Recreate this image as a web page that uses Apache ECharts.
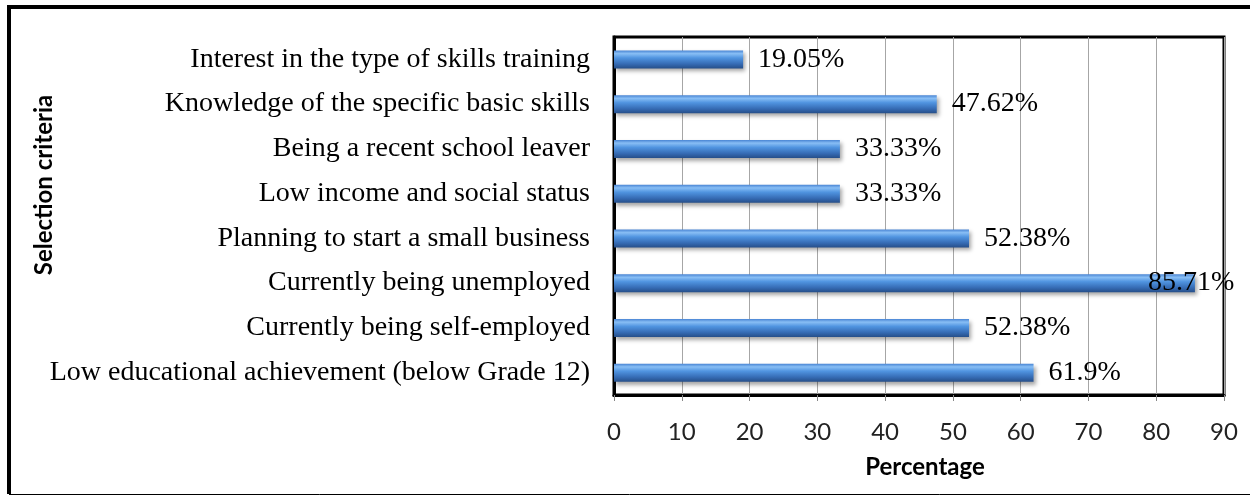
<!DOCTYPE html>
<html>
<head>
<meta charset="utf-8">
<script src="https://cdn.jsdelivr.net/npm/echarts@6/dist/echarts.min.js"></script>
<style>
  html, body { margin: 0; padding: 0; background: #fff; }
  #chart { width: 1250px; height: 497px; }
</style>
</head>
<body>
<div id="chart"></div>
<script>
// Selection criteria, listed top to bottom
const categories = [
  'Interest in the type of skills training',
  'Knowledge of the specific basic skills',
  'Being a recent school leaver',
  'Low income and social status',
  'Planning to start a small business',
  'Currently being unemployed',
  'Currently being self-employed',
  'Low educational achievement (below Grade 12)'
];
// Share of respondents (%) per criterion
const percentages = [19.05, 47.62, 33.33, 33.33, 52.38, 85.71, 52.38, 61.9];
// Value axis ticks
const xTicks = [0, 10, 20, 30, 40, 50, 60, 70, 80, 90];

const serif = '"Liberation Serif", "Times New Roman", serif';
const sans = 'Lato, "Open Sans", "Liberation Sans", sans-serif';

const barFill = new echarts.graphic.LinearGradient(0, 0, 0, 1, [
  { offset: 0, color: '#4682d2' },
  { offset: 0.18, color: '#88bef5' },
  { offset: 0.42, color: '#5094e0' },
  { offset: 0.75, color: '#366cb5' },
  { offset: 1, color: '#264f8a' }
]);

const chart = echarts.init(document.getElementById('chart'), null, { renderer: 'canvas' });

const seriesData = percentages.map((v) => {
  const item = { value: v };
  // The longest bar reaches the frame, so its label is pulled back over the bar end
  if (v > 80) {
    item.label = { offset: [-62, 0] };
  }
  return item;
});

chart.setOption({
  backgroundColor: '#fff',
  animation: false,
  graphic: [
    { type: 'line', shape: { x1: 9, y1: 7, x2: 1250, y2: 7 }, style: { stroke: '#000', lineWidth: 4 } },
    { type: 'line', shape: { x1: 9, y1: 5, x2: 9, y2: 494 }, style: { stroke: '#000', lineWidth: 4 } },
    { type: 'line', shape: { x1: 9, y1: 494.5, x2: 1250, y2: 494.5 }, style: { stroke: '#000', lineWidth: 1 } },
    {
      type: 'text', x: 925, y: 467,
      style: { text: 'Percentage', font: 'bold 24px ' + sans, fill: '#000', align: 'center', verticalAlign: 'middle' }
    },
    {
      type: 'text', x: 44, y: 185, rotation: Math.PI / 2,
      style: { text: 'Selection criteria', font: 'bold 24px ' + sans, fill: '#000', align: 'center', verticalAlign: 'middle' }
    }
  ],
  grid: {
    left: 614, right: 26, top: 37, bottom: 102,
    show: true, borderColor: '#000', borderWidth: 3, backgroundColor: 'transparent'
  },
  xAxis: {
    type: 'value',
    min: xTicks[0],
    max: xTicks[xTicks.length - 1],
    interval: 10,
    axisLine: { show: true, lineStyle: { color: '#000', width: 3 } },
    axisTick: { show: true, length: 6, lineStyle: { color: '#888' } },
    splitLine: { show: true, lineStyle: { color: '#a6a6a6', width: 1 } },
    axisLabel: { margin: 25, fontSize: 24, fontFamily: sans, color: '#222' }
  },
  yAxis: {
    type: 'category',
    data: categories,
    inverse: true,
    axisLine: { show: true, lineStyle: { color: '#000', width: 3 } },
    axisTick: { show: false },
    axisLabel: { margin: 24, fontSize: 28, fontFamily: serif, color: '#000' }
  },
  series: [{
    type: 'bar',
    data: seriesData,
    barWidth: 18,
    itemStyle: {
      color: barFill,
      shadowColor: 'rgba(0,0,0,0.35)',
      shadowBlur: 4,
      shadowOffsetX: 2,
      shadowOffsetY: 3
    },
    label: {
      show: true,
      position: 'right',
      distance: 15,
      formatter: (p) => p.value + '%',
      fontSize: 28,
      fontFamily: serif,
      color: '#000'
    }
  }]
});
</script>
</body>
</html>
